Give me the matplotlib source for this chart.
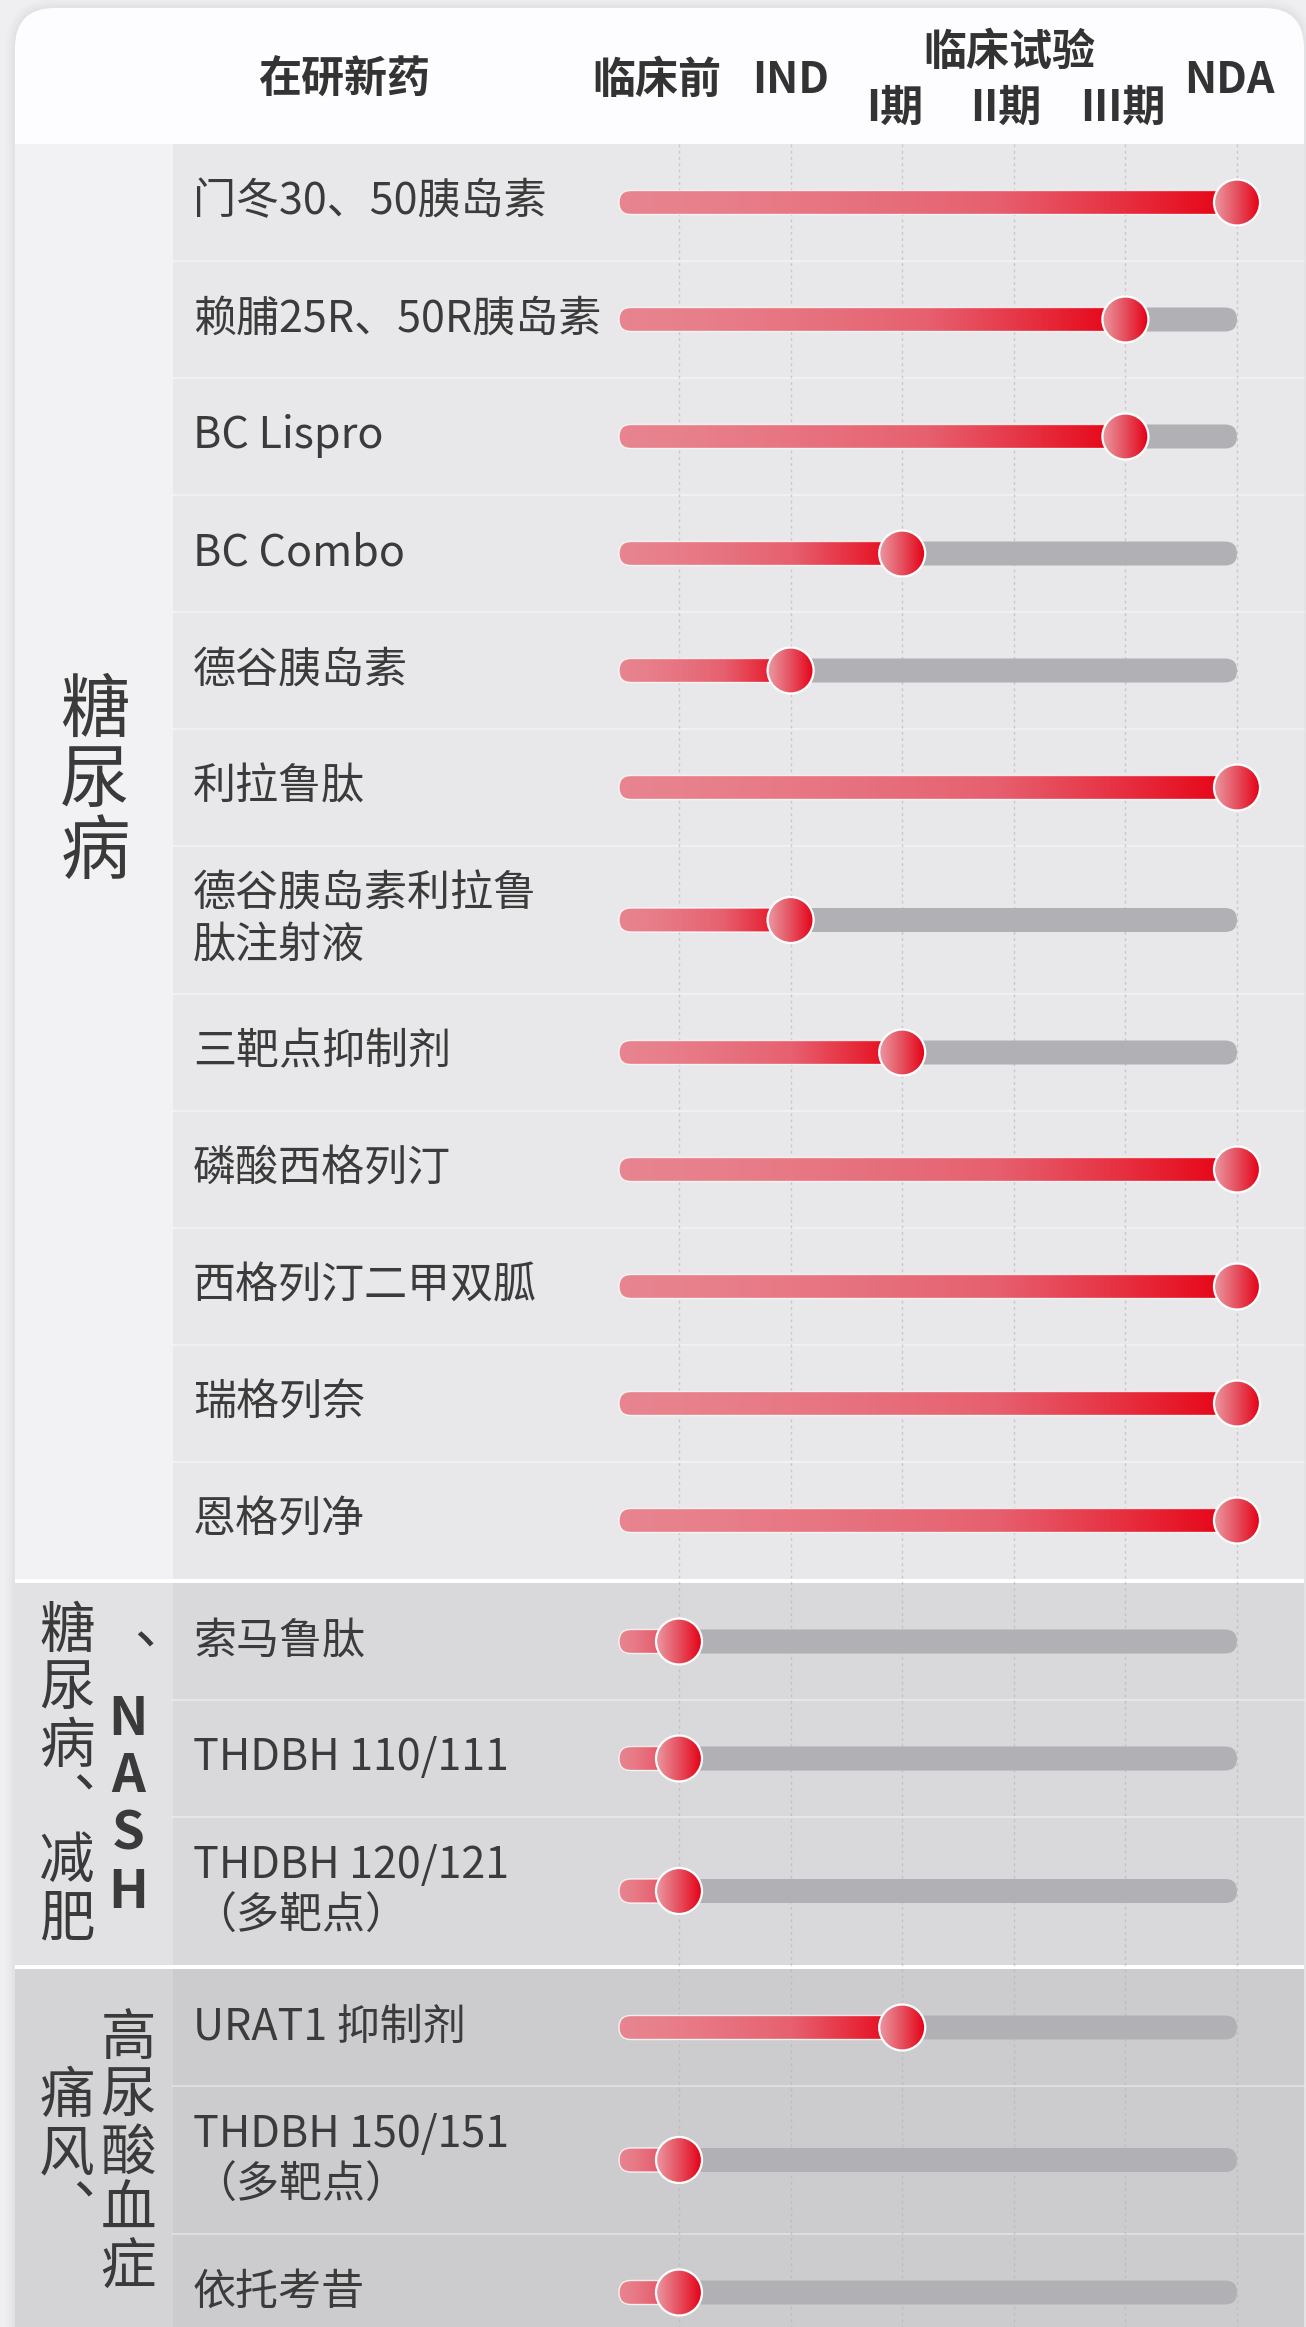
import numpy as np
import matplotlib.pyplot as plt
from matplotlib.patches import FancyBboxPatch, Rectangle, Ellipse
from matplotlib.colors import LinearSegmentedColormap

plt.rcParams['font.family'] = ['Noto Sans CJK SC', 'DejaVu Sans']

# ---- data ----
stage_labels = ['临床前', 'IND', 'I期', 'II期', 'III期', 'NDA']
drugs = ['门冬30、50胰岛素', '赖脯25R、50R胰岛素', 'BC Lispro', 'BC Combo',
         '德谷胰岛素', '利拉鲁肽', '德谷胰岛素利拉鲁\n肽注射液', '三靶点抑制剂',
         '磷酸西格列汀', '西格列汀二甲双胍', '瑞格列奈', '恩格列净',
         '索马鲁肽', 'THDBH 110/111', 'THDBH 120/121\n（多靶点）',
         'URAT1 抑制剂', 'THDBH 150/151\n（多靶点）', '依托考昔']
progress = [5, 4, 4, 2, 1, 5, 1, 2, 5, 5, 5, 5, 0, 0, 0, 2, 0, 0]
group = [0] * 12 + [1] * 3 + [2] * 3
# category labels, written vertically in columns
cat_text = [
    ['糖尿病'],
    ['糖尿病︑减肥', '︑NASH'],
    ['痛风︑', '高尿酸血症'],
]

# ---- layout (pixels) ----
W, H = 1306, 2327
X0, DX = 679.0, 111.6          # stage 0 position and stage spacing
def sx(px):
    return (px - X0) / DX

row_bg = ['#e8e8ea', '#d9d8db', '#cccbce']
cat_bg = ['#f2f2f4', '#e2e1e4', '#d4d3d6']
HEAD = 144
ROW1, ROW2, GAP = 117, 148, 4
CARD_L, CARD_R, CARD_T = 15, 1304, 8
COL_R = 173
BAR_H, KNOB = 24, 46
TRACK_L = sx(619)

fig = plt.figure(figsize=(W / 100, H / 100), dpi=100)
fig.patch.set_facecolor('#efeff1')
ax = fig.add_axes([0, 0, 1, 1])
ax.set_facecolor('#efeff1')

# card with soft shadow
for i, a in enumerate([0.05, 0.04, 0.03]):
    g = 3 + i * 3
    ax.add_patch(FancyBboxPatch((sx(CARD_L - g), CARD_T - g), sx(CARD_R + g) - sx(CARD_L - g), H + 100,
                                boxstyle=f'round,pad=0,rounding_size={(40 + g) / DX}',
                                mutation_aspect=DX, fc='#9a9aa0', ec='none', alpha=a, zorder=0))
ax.add_patch(FancyBboxPatch((sx(CARD_L), CARD_T), sx(CARD_R) - sx(CARD_L), H + 100,
                            boxstyle=f'round,pad=0,rounding_size={40 / DX}',
                            mutation_aspect=DX, fc='#fdfcfe', ec='none', zorder=1))

# rows
tops, centers = [], []
y = HEAD
for i, name in enumerate(drugs):
    if i > 0 and group[i] != group[i - 1]:
        y += GAP
    h = ROW2 if '\n' in name else ROW1
    tops.append((y, h))
    centers.append(y + h / 2)
    y += h

sec_span = {}
for i, (t, h) in enumerate(tops):
    g = group[i]
    ax.add_patch(Rectangle((sx(COL_R), t), sx(CARD_R) - sx(COL_R), h, fc=row_bg[g], ec='none', zorder=2))
    s = sec_span.get(g, [t, t + h])
    sec_span[g] = [min(s[0], t), max(s[1], t + h)]
    if i > 0 and group[i] == group[i - 1]:
        ax.plot([sx(COL_R), sx(CARD_R)], [t, t], color='white', alpha=0.35, lw=1.5, zorder=2.5)

for g, (t, b) in sec_span.items():
    ax.add_patch(Rectangle((sx(CARD_L), t), sx(COL_R) - sx(CARD_L), b - t, fc=cat_bg[g], ec='none', zorder=2))
    if g > 0:
        ax.add_patch(Rectangle((sx(CARD_L), t - GAP), sx(CARD_R) - sx(CARD_L), GAP, fc='white', ec='none', zorder=2))

# dashed stage grid
ax.vlines(range(len(stage_labels)), HEAD, H, colors='#b4b4b9', alpha=0.6,
          linestyles=(0, (2, 2.5)), lw=1.0, zorder=3)

# header
hc = '#333333'
hfs = 31
ax.text(sx(344), 80, '在研新药', ha='center', va='center', fontsize=hfs, fontweight='bold', color=hc, zorder=5)
head_x = [657, 791, 895, 1006, 1123, 1229]
head_y = [80, 80, 108, 108, 108, 80]
for lab, hx, hy in zip(stage_labels, head_x, head_y):
    ax.text(sx(hx), hy, lab, ha='center', va='center', fontsize=hfs, fontweight='bold', color=hc, zorder=5)
ax.text(sx(1009), 52, '临床试验', ha='center', va='center', fontsize=hfs, fontweight='bold', color=hc, zorder=5)

# category labels: font size, cell step, column x, column first-cell y
cat_cfg = [(50, 71, [95], [711]),
           (40, 57.5, [67, 128], [1632, 1662]),
           (40, 57.5, [67, 128], [2097, 2039])]
for g, cols in enumerate(cat_text):
    fs, step, xs, ys = cat_cfg[g]
    for txt, cx, y0 in zip(cols, xs, ys):
        for k, ch in enumerate(txt):
            latin = ch.isascii()
            ax.text(sx(cx), y0 + k * step, ch, ha='center', va='center',
                    fontsize=fs - 2 if latin else fs, fontweight='bold' if latin else 500,
                    color='#3a3a3a', zorder=5)

# drug names
for name, yc in zip(drugs, centers):
    ax.text(sx(193), yc, name, ha='left', va='center', fontsize=31, color='#3b3b3b',
            linespacing=1.2, zorder=5)

bar_cmap = LinearSegmentedColormap.from_list('bar', ['#e8848f', '#e6606f', '#e60012'])
knob_cmap = LinearSegmentedColormap.from_list('knob', ['#ea99a2', '#e6505f', '#e50015'])
grad = np.linspace(0, 1, 256)[None, :]

def rbox(x0, x1, yc, h, **kw):
    return FancyBboxPatch((x0, yc - h / 2), x1 - x0, h,
                          boxstyle=f'round,pad=0,rounding_size={h / 2 / DX}',
                          mutation_aspect=DX, **kw)

for v, yc in zip(progress, centers):
    ax.add_patch(rbox(TRACK_L, len(stage_labels) - 1, yc, BAR_H, fc='#b1b0b4', ec='none', zorder=6))
    clip = rbox(TRACK_L, v, yc, BAR_H, fc='none', ec='none', zorder=6)
    ax.add_patch(clip)
    im = ax.imshow(grad ** 1.4, cmap=bar_cmap, extent=[TRACK_L, v, yc + BAR_H / 2, yc - BAR_H / 2],
                   aspect='auto', interpolation='bilinear', zorder=7)
    im.set_clip_path(clip)
    ax.add_patch(rbox(TRACK_L, v, yc, BAR_H, fc='none', ec='white', lw=1.0, alpha=0.8, zorder=7.5))
    kc = Ellipse((v, yc), KNOB / DX, KNOB, fc='none', ec='none', zorder=8)
    ax.add_patch(kc)
    im = ax.imshow(grad, cmap=knob_cmap, extent=[v - KNOB / 2 / DX, v + KNOB / 2 / DX, yc + KNOB / 2, yc - KNOB / 2],
                   aspect='auto', interpolation='bilinear', zorder=8)
    im.set_clip_path(kc)
    ax.add_patch(Ellipse((v, yc), KNOB / DX, KNOB, fc='none', ec='white', lw=1.6, zorder=9))

ax.set_xlim(sx(0), sx(W))
ax.set_ylim(H, 0)
ax.set_aspect('auto')
ax.axis('off')

fig.savefig('out.png', dpi=100, facecolor=fig.get_facecolor())
